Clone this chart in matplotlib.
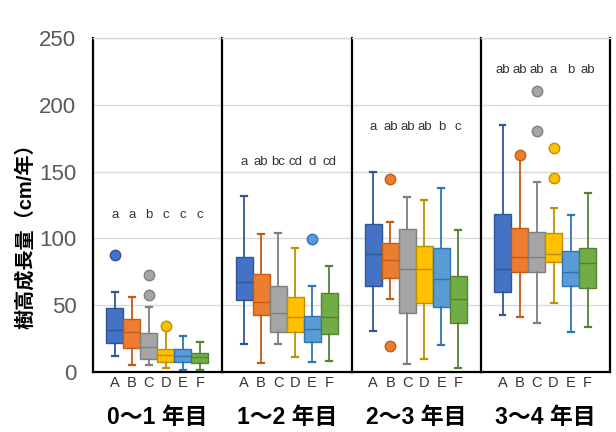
import matplotlib
matplotlib.use("Agg")
import matplotlib.pyplot as plt

plt.rcParams['font.family'] = ['Liberation Sans', 'Noto Sans CJK JP', 'DejaVu Sans']

# 期間と系統
periods = ['0～1 年目', '1～2 年目', '2～3 年目', '3～4 年目']
groups = ['A', 'B', 'C', 'D', 'E', 'F']

# 箱ひげ図の統計量 (cm/年)
whisker_low = [
    [12, 5, 5, 3, 1.5, 1.5],
    [21, 6.5, 21, 11.5, 7.7, 8.5],
    [30.7, 55, 6, 9.5, 20, 2.8],
    [42.7, 41, 36.5, 52, 30.2, 34],
]
q1 = [
    [21.5, 17.7, 10, 7.2, 7.7, 6.5],
    [54, 43, 29.7, 29.7, 22.2, 28.5],
    [64, 70, 44, 52, 48.5, 37],
    [60, 74.7, 74.7, 82.6, 64.6, 63],
]
median = [
    [31.5, 30, 19, 12.7, 12, 11],
    [67.7, 52.7, 44.4, 41, 32.2, 41],
    [88.4, 84, 77, 77, 69.7, 54.5],
    [77, 86.4, 86.4, 88.4, 75, 81.4],
]
q3 = [
    [47.7, 40, 29.5, 17, 17, 14],
    [86, 73.4, 64.4, 56.4, 42, 59.4],
    [111, 96.4, 107, 94, 92.6, 72],
    [118, 108, 104.9, 104, 90.9, 92.6],
]
whisker_high = [
    [60, 56, 49, 32, 27, 22.7],
    [132, 103.4, 104.4, 93, 64.7, 79.6],
    [150, 112, 131, 129, 137.6, 106.4],
    [185, 160.8, 142.5, 123, 117.6, 134.3],
]
outliers = [
    [[87.6], [], [72.7, 57.7], [34.5], [], []],
    [[], [], [], [], [99.6], []],
    [[], [144.3, 19.5], [], [], [], []],
    [[], [162.3], [210.5, 180.7], [167.8, 145.5], [], []],
]

# 多重比較の結果
letters = [
    ['a', 'a', 'b', 'c', 'c', 'c'],
    ['a', 'ab', 'bc', 'cd', 'd', 'cd'],
    ['a', 'ab', 'ab', 'ab', 'b', 'c'],
    ['ab', 'ab', 'ab', 'a', 'b', 'ab'],
]
letter_y = [117.6, 157.5, 183.7, 226]

face_colors = ['#4472C4', '#ED7D31', '#A5A5A5', '#FFC000', '#5B9BD5', '#70AD47']
edge_colors = ['#2F5597', '#C55A11', '#7F7F7F', '#BF9000', '#2E75B6', '#548235']

fig, axes = plt.subplots(1, 4, sharey=True, figsize=(6.16, 4.32), dpi=100)
fig.subplots_adjust(left=93 / 616, right=610 / 616, top=1 - 38 / 432,
                    bottom=1 - 372 / 432, wspace=0)

positions = list(range(1, len(groups) + 1))

for p, ax in enumerate(axes):
    for g in range(len(groups)):
        stats = [{
            'whislo': whisker_low[p][g], 'q1': q1[p][g], 'med': median[p][g],
            'q3': q3[p][g], 'whishi': whisker_high[p][g], 'fliers': outliers[p][g],
        }]
        ec = edge_colors[g]
        ax.bxp(stats, positions=[positions[g]], widths=1.0, capwidths=0.35,
               patch_artist=True, manage_ticks=False,
               boxprops=dict(facecolor=face_colors[g], edgecolor=ec, linewidth=1.0),
               medianprops=dict(color=ec, linewidth=1.0),
               whiskerprops=dict(color=ec, linewidth=1.3),
               capprops=dict(color=ec, linewidth=1.6),
               flierprops=dict(marker='o', markerfacecolor=face_colors[g],
                               markeredgecolor=ec, markersize=7.5))
        ax.text(positions[g], letter_y[p], letters[p][g], ha='center', va='center',
                fontsize=9.5, color='#333333')

    ax.set_xlim(-0.28, 7.32)
    ax.set_ylim(0, 250)
    ax.set_yticks([0, 50, 100, 150, 200, 250])
    ax.yaxis.grid(True, color='#D9D9D9', linewidth=1.0)
    ax.set_axisbelow(True)
    ax.set_xticks(positions)
    ax.set_xticklabels(groups, fontsize=10.5, color='#333333')
    ax.tick_params(axis='x', length=0, pad=3)
    ax.tick_params(axis='y', length=0, pad=12, labelsize=16, labelcolor='#595959')

    ax.spines['top'].set_color('#D9D9D9')
    ax.spines['top'].set_linewidth(1.0)
    ax.spines['left'].set_color('black')
    ax.spines['left'].set_linewidth(1.6)
    ax.spines['bottom'].set_color('black')
    ax.spines['bottom'].set_linewidth(1.6)
    if p == len(axes) - 1:
        ax.spines['right'].set_color('black')
        ax.spines['right'].set_linewidth(1.6)
    else:
        ax.spines['right'].set_visible(False)

    ax.text(0.5, -0.135, periods[p], transform=ax.transAxes, ha='center', va='center',
            fontsize=16.5, fontweight='bold')

fig.text(25 / 616, 1 - 231 / 432, '樹高成長量（cm/年）', rotation=90,
         ha='center', va='center', fontsize=14.5, fontweight='bold')

fig.savefig('out.png', dpi=100)
